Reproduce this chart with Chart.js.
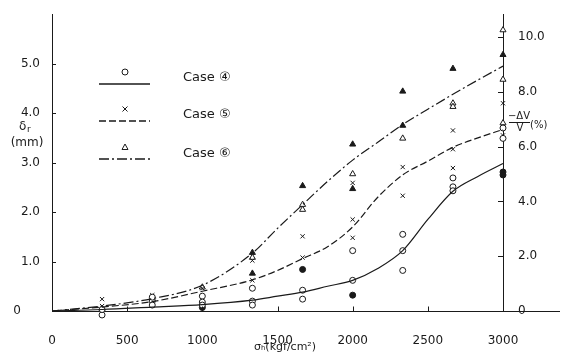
<!DOCTYPE html>
<html>
<head>
<meta charset="utf-8">
<script src="https://cdn.jsdelivr.net/npm/chart.js@4.4.0/dist/chart.umd.min.js"></script>
<style>
  body { margin: 0; background: #fff; }
  canvas { display: block; }
</style>
</head>
<body>
<canvas id="chart" width="563" height="353"></canvas>
<script>
// fitted curves (sigma_h in kgf/cm2, delta_r in mm)
const curveX = [0, 333, 667, 1000, 1333, 1500, 1667, 1833, 2000, 2167, 2333, 2500, 2667, 2833, 3000];
const case4Curve = [0, 0.03, 0.08, 0.13, 0.22, 0.3, 0.38, 0.5, 0.62, 0.86, 1.22, 1.85, 2.42, 2.72, 2.98];
const case5Curve = [0, 0.08, 0.19, 0.4, 0.63, 0.82, 1.06, 1.3, 1.7, 2.3, 2.75, 3.03, 3.31, 3.5, 3.67];
const case6Curve = [0, 0.1, 0.25, 0.52, 1.17, 1.67, 2.15, 2.62, 3.05, 3.41, 3.77, 4.08, 4.38, 4.67, 4.95];

// measured points
const case4Open = [[333, -0.08], [333, -0.18], [333, 0.03], [667, 0.2], [667, 0.12], [667, 0.28], [667, -0.12],
  [1000, 0.3], [1000, 0.18], [1000, 0.12], [1333, 0.46], [1333, 0.2], [1333, 0.12], [1667, 0.42], [1667, 0.24],
  [2000, 1.22], [2000, 0.62], [2333, 1.55], [2333, 1.22], [2333, 0.82], [2667, 2.69], [2667, 2.51], [2667, 2.43],
  [3000, 3.7], [3000, 3.49]];
const case4Filled = [[1000, 0.07], [1667, 0.84], [2000, 0.32], [3000, 2.81], [3000, 2.75]];
const case5Cross = [[333, 0.24], [333, 0.1], [667, 0.32], [1000, 0.46], [1333, 1.02], [1333, 0.62], [1667, 1.51],
  [1667, 1.08], [2000, 2.59], [2000, 1.85], [2000, 1.48], [2333, 2.91], [2333, 2.33], [2667, 3.65], [2667, 3.27],
  [2667, 2.89], [3000, 4.2], [3000, 3.55]];
const case6Open = [[333, 0.05], [667, 0.25], [1000, 0.48], [1333, 1.08], [1667, 2.15], [1667, 2.05], [2000, 2.77],
  [2333, 3.49], [2667, 4.2], [2667, 4.13], [3000, 5.68], [3000, 4.68], [3000, 3.8]];
const case6Filled = [[1333, 1.18], [1333, 0.76], [1667, 2.53], [2000, 3.37], [2000, 2.47], [2333, 4.44],
  [2333, 3.75], [2667, 4.9], [3000, 5.18]];

const xTicks = [0, 500, 1000, 1500, 2000, 2500, 3000];
const leftTicks = [0, 1, 2, 3, 4, 5];
const rightTicks = [0, 2, 4, 6, 8, 10];

const ink = '#1a1a1a';
Chart.defaults.font.family = 'DejaVu Sans';
Chart.defaults.font.size = 12;
Chart.defaults.color = ink;

function curve(ys) {
  return curveX.map((x, i) => ({ x: x, y: ys[i] }));
}
function pts(list) {
  return list.map(p => ({ x: p[0], y: p[1] }));
}
function lineSet(ys, dash) {
  return { type: 'line', data: curve(ys), borderColor: ink, borderWidth: 1.2, borderDash: dash,
    pointRadius: 0, cubicInterpolationMode: 'monotone', fill: false, clip: false };
}
function markSet(list, style, filled, r) {
  return { type: 'scatter', data: pts(list), pointStyle: style, pointRadius: r, pointBorderWidth: 1,
    pointBorderColor: ink, pointBackgroundColor: filled ? ink : '#fff', clip: false };
}

function drawMark(ctx, style, x, y) {
  ctx.beginPath();
  if (style === 'circle') {
    ctx.arc(x, y, 3, 0, Math.PI * 2);
    ctx.stroke();
  } else if (style === 'cross') {
    ctx.moveTo(x - 2.5, y - 2.5); ctx.lineTo(x + 2.5, y + 2.5);
    ctx.moveTo(x + 2.5, y - 2.5); ctx.lineTo(x - 2.5, y + 2.5);
    ctx.stroke();
  } else {
    ctx.moveTo(x, y - 3); ctx.lineTo(x + 3, y + 2.5); ctx.lineTo(x - 3, y + 2.5); ctx.closePath();
    ctx.stroke();
  }
}

const extras = {
  id: 'extras',
  afterDraw(chart) {
    const { ctx, chartArea } = chart;
    const sx = chart.scales.x, sy = chart.scales.y, sy2 = chart.scales.y2;
    const base = Math.round(sy.getPixelForValue(0)) + 0.5;
    ctx.save();
    ctx.strokeStyle = ink;
    ctx.fillStyle = ink;
    ctx.lineWidth = 1;

    // x axis runs on past the right axis
    ctx.beginPath();
    ctx.moveTo(chartArea.right, base);
    ctx.lineTo(560, base);
    ctx.stroke();

    // inner tick marks
    ctx.beginPath();
    xTicks.slice(1).forEach(v => {
      const px = Math.round(sx.getPixelForValue(v)) + 0.5;
      ctx.moveTo(px, base); ctx.lineTo(px, base - 5);
    });
    leftTicks.slice(1).forEach(v => {
      const py = Math.round(sy.getPixelForValue(v)) + 0.5;
      ctx.moveTo(chartArea.left, py); ctx.lineTo(chartArea.left + 4, py);
    });
    rightTicks.slice(1).forEach(v => {
      const py = Math.round(sy2.getPixelForValue(v)) + 0.5;
      ctx.moveTo(chartArea.right, py); ctx.lineTo(chartArea.right - 5, py);
    });
    ctx.stroke();

    // left axis title
    ctx.textAlign = 'left';
    ctx.textBaseline = 'middle';
    ctx.font = '12px DejaVu Sans';
    ctx.fillText('δ', 19, 127);
    ctx.font = '9px DejaVu Sans';
    ctx.fillText('r', 27, 130);
    ctx.font = '12px DejaVu Sans';
    ctx.textAlign = 'center';
    ctx.fillText('(mm)', 27, 143);

    // right axis title
    ctx.font = '10px DejaVu Sans';
    ctx.fillText('−ΔV', 519, 116);
    ctx.fillText('V', 520, 128);
    ctx.beginPath();
    ctx.moveTo(509, 122.5); ctx.lineTo(530, 122.5);
    ctx.stroke();
    ctx.textAlign = 'left';
    ctx.fillText('(%)', 530, 125);

    // x axis title
    ctx.font = '11px DejaVu Sans';
    ctx.textAlign = 'center';
    ctx.fillText('σₕ(kgf/cm²)', 285, 347);

    // legend
    const rows = [
      { style: 'circle', dash: [], label: 'Case ④', my: 72, ly: 84, ty: 78 },
      { style: 'cross', dash: [7, 3], label: 'Case ⑤', my: 109, ly: 121, ty: 115 },
      { style: 'triangle', dash: [10, 3, 2, 3], label: 'Case ⑥', my: 147, ly: 159, ty: 154 }
    ];
    ctx.font = '13px DejaVu Sans';
    ctx.textAlign = 'left';
    rows.forEach(r => {
      ctx.setLineDash([]);
      drawMark(ctx, r.style, 125, r.my);
      ctx.setLineDash(r.dash);
      ctx.lineWidth = 1.3;
      ctx.beginPath();
      ctx.moveTo(99, r.ly); ctx.lineTo(150, r.ly);
      ctx.stroke();
      ctx.lineWidth = 1;
      ctx.setLineDash([]);
      ctx.fillText(r.label, 183, r.ty);
    });
    ctx.restore();
  }
};

new Chart(document.getElementById('chart'), {
  type: 'scatter',
  data: {
    datasets: [
      lineSet(case4Curve, []),
      lineSet(case5Curve, [7, 3]),
      lineSet(case6Curve, [10, 3, 2, 3]),
      markSet(case4Open, 'circle', false, 3),
      markSet(case4Filled, 'circle', true, 3),
      markSet(case5Cross, 'crossRot', false, 3),
      markSet(case6Open, 'triangle', false, 3.5),
      markSet(case6Filled, 'triangle', true, 3.5)
    ]
  },
  options: {
    responsive: false,
    animation: false,
    layout: { padding: { top: 10, left: 0, right: 0, bottom: 0 } },
    plugins: { legend: { display: false }, tooltip: { enabled: false } },
    scales: {
      x: {
        type: 'linear', min: 0, max: 3000,
        afterBuildTicks: s => { s.ticks = xTicks.map(v => ({ value: v })); },
        afterFit: s => { s.height = 42; },
        grid: { display: false },
        border: { display: true, color: ink, width: 1 },
        ticks: { padding: 15, maxRotation: 0, callback: v => String(v) }
      },
      y: {
        type: 'linear', position: 'left', min: 0, max: 6,
        afterBuildTicks: s => { s.ticks = leftTicks.map(v => ({ value: v })); },
        afterFit: s => { s.width = 52; },
        grid: { display: false },
        border: { display: true, color: ink, width: 1 },
        ticks: { padding: 4, callback: v => v === 0 ? '0     ' : v.toFixed(1) }
      },
      y2: {
        type: 'linear', position: 'right', min: 0, max: 10.83,
        afterBuildTicks: s => { s.ticks = rightTicks.map(v => ({ value: v })); },
        afterFit: s => { s.width = 60; },
        grid: { display: false },
        border: { display: true, color: ink, width: 1 },
        ticks: { padding: 7, callback: v => v === 0 ? '0' : v.toFixed(1) }
      }
    }
  },
  plugins: [extras]
});
</script>
</body>
</html>
